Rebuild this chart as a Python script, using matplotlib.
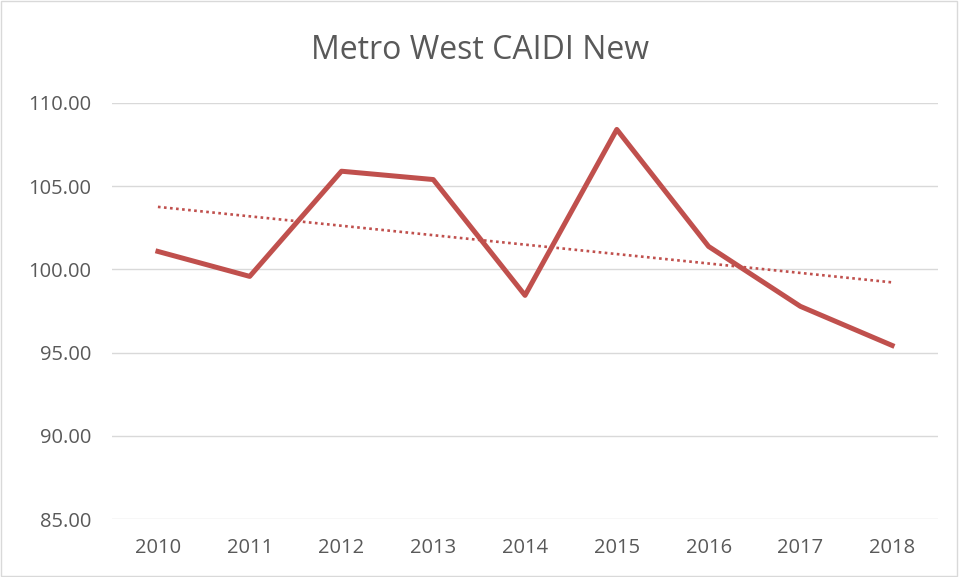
import matplotlib
matplotlib.use("Agg")
import matplotlib.pyplot as plt
import numpy as np
from matplotlib.patches import Rectangle

years = ["2010", "2011", "2012", "2013", "2014", "2015", "2016", "2017", "2018"]
caidi = [101.08, 99.58, 105.9, 105.4, 98.44, 108.41, 101.38, 97.78, 95.43]
yticks = [85, 90, 95, 100, 105, 110]

plt.rcParams["font.family"] = ["Open Sans", "DejaVu Sans"]

fig = plt.figure(figsize=(9.6, 5.77), dpi=100)
ax = fig.add_axes([0.1167, 0.1005, 0.8604, 0.721])

x = np.arange(len(years))
ax.plot(x, caidi, color="#C0504D", lw=3.6, solid_joinstyle="round", zorder=3)

# linear trendline
coef = np.polyfit(x, caidi, 1)
ax.plot(x, np.polyval(coef, x), color="#C0504D", lw=1.9, ls=(0, (1, 1.3)), zorder=2)

ax.set_xlim(-0.5, len(years) - 0.5)
ax.set_ylim(85, 110)
ax.set_xticks(x)
ax.set_xticklabels(years)
ax.set_yticks(yticks)
ax.set_yticklabels([f"{v:.2f}" for v in yticks])
ax.tick_params(length=0, labelsize=14.5, colors="#595959")
ax.tick_params(axis="y", pad=15)
ax.tick_params(axis="x", pad=14)
ax.grid(axis="y", color="#D9D9D9", lw=1)
ax.set_axisbelow(True)
for s in ax.spines.values():
    s.set_visible(False)

fig.text(0.5, 0.912, "Metro West CAIDI New", ha="center", va="center",
         fontsize=23, color="#595959")
fig.patches.append(Rectangle((0.001, 0.001), 0.996, 0.997, transform=fig.transFigure,
                             fill=False, edgecolor="#D9D9D9", lw=1))

fig.savefig("out.png", dpi=100)
